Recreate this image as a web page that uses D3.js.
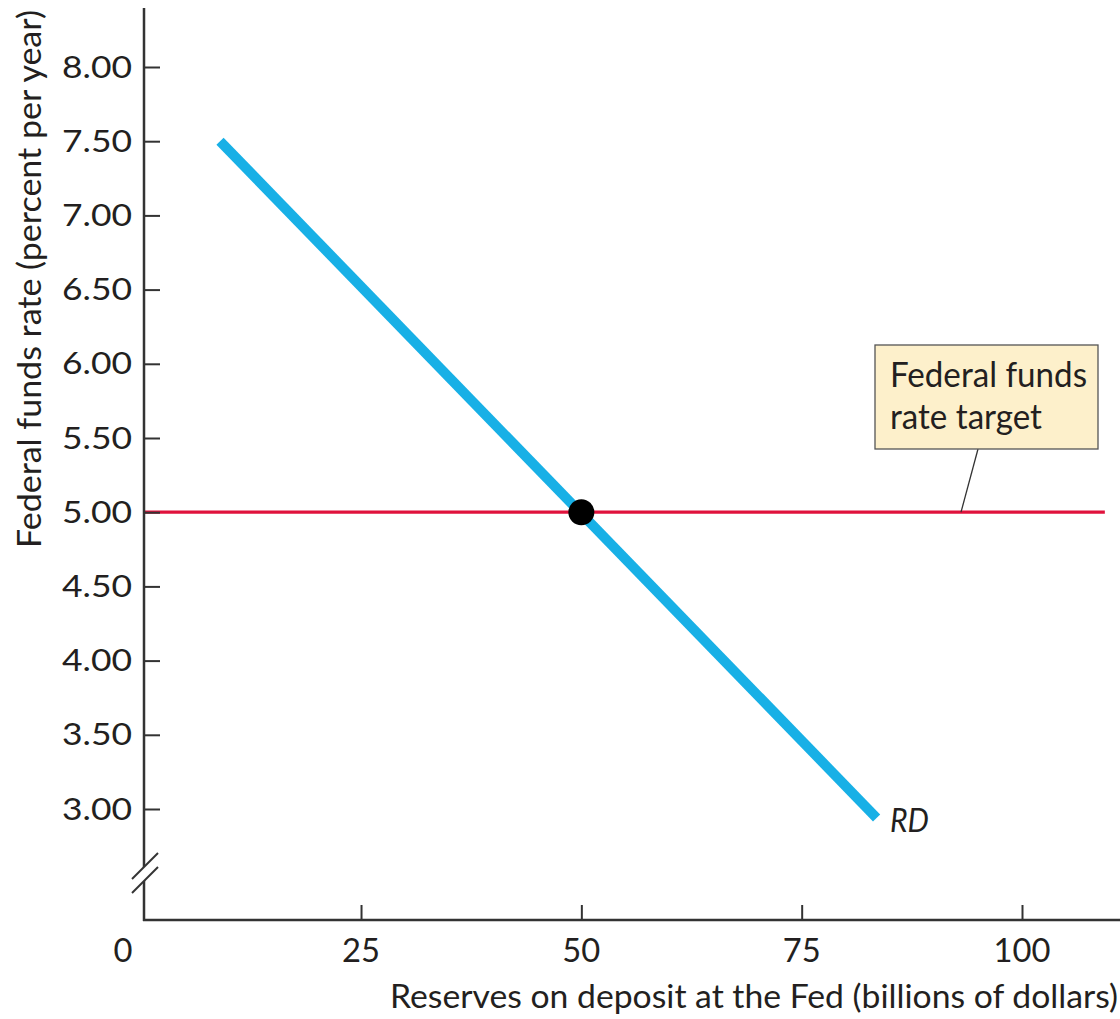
<!DOCTYPE html>
<html><head><meta charset="utf-8">
<script src="https://cdn.jsdelivr.net/npm/d3@7"></script>
<style>body{margin:0;background:#fff}svg{display:block}text{font-family:Lato,"Open Sans",sans-serif;fill:#231f20}</style>
</head><body>
<script>
const xTicks=[0,25,50,75,100];
const yTicks=[3.00,3.50,4.00,4.50,5.00,5.50,6.00,6.50,7.00,7.50,8.00];
const rdX=[9,83.5];
const rdY=[7.5,2.94];
const targetRate=5.0;
const targetX=[0,109.4];
const eqX=[50], eqY=[5.0];

const W=1120,H=1019;
const svg=d3.select("body").append("svg").attr("width",W).attr("height",H);
const x=d3.scaleLinear().domain([0,100]).range([140.7,1022]);
const y=d3.scaleLinear().domain([3,8]).range([809,67]);
const axisX=144, axisY=920;
const ink="#333";

// red target line
svg.append("line").attr("x1",axisX).attr("x2",x(targetX[1])).attr("y1",y(targetRate)).attr("y2",y(targetRate))
 .attr("stroke","#e0123c").attr("stroke-width",3.2);

// RD line
const rd=rdX.map((d,i)=>[d,rdY[i]]);
svg.append("path").attr("d",d3.line().x(d=>x(d[0])).y(d=>y(d[1]))(rd))
 .attr("stroke","#18b0e6").attr("stroke-width",10).attr("fill","none");

// equilibrium dot
svg.selectAll(".eq").data(eqX).enter().append("circle").attr("cx",d=>x(d)).attr("cy",(d,i)=>y(eqY[i])).attr("r",13).attr("fill","#000");

// axes
const yAx=d3.axisRight(y).tickValues(yTicks).tickSize(16).tickFormat("");
const gy=svg.append("g").attr("transform",`translate(${axisX},0)`).call(yAx);
gy.select(".domain").remove();
gy.selectAll(".tick line").attr("stroke",ink).attr("stroke-width",2);
svg.append("line").attr("x1",axisX).attr("x2",axisX).attr("y1",8).attr("y2",axisY+1).attr("stroke",ink).attr("stroke-width",2.5);
svg.selectAll(".ylab").data(yTicks).enter().append("text").attr("x",132).attr("y",d=>y(d)+10.5)
 .attr("text-anchor","end").attr("font-size",31).attr("textLength",70).attr("lengthAdjust","spacingAndGlyphs").text(d=>d.toFixed(2));

const xAx=d3.axisTop(x).tickValues(xTicks.filter(d=>d>0)).tickSize(15).tickFormat("");
const gx=svg.append("g").attr("transform",`translate(0,${axisY})`).call(xAx);
gx.select(".domain").remove();
gx.selectAll(".tick line").attr("stroke",ink).attr("stroke-width",2);
svg.append("line").attr("x1",axisX-1).attr("x2",W).attr("y1",axisY).attr("y2",axisY).attr("stroke",ink).attr("stroke-width",2.5);
svg.selectAll(".xlab").data(xTicks).enter().append("text")
 .attr("x",d=>d===0?123:x(d)).attr("y",962).attr("text-anchor","middle").attr("font-size",33)
 .attr("textLength",d=>String(d).length*19).attr("lengthAdjust","spacingAndGlyphs").text(d=>d);

// axis break
svg.append("polygon").attr("points",`${axisX-12},879 ${axisX+14},853 ${axisX+14},867 ${axisX-12},893`).attr("fill","#fff");
[[879,853],[893,867]].forEach(p=>svg.append("line").attr("x1",axisX-12).attr("y1",p[0]).attr("x2",axisX+14).attr("y2",p[1]).attr("stroke",ink).attr("stroke-width",2));

// titles
svg.append("text").attr("transform","translate(41,279) rotate(-90)").attr("text-anchor","middle").attr("font-size",33)
 .attr("textLength",538).attr("lengthAdjust","spacingAndGlyphs").text("Federal funds rate (percent per year)");
svg.append("text").attr("x",1118).attr("y",1008).attr("text-anchor","end").attr("font-size",32)
 .attr("textLength",728).attr("lengthAdjust","spacingAndGlyphs").text("Reserves on deposit at the Fed (billions of dollars)");

// RD label
svg.append("text").attr("x",890).attr("y",832).attr("font-size",33).attr("font-style","italic")
 .attr("textLength",39).attr("lengthAdjust","spacingAndGlyphs").text("RD");

// annotation
svg.append("line").attr("x1",978).attr("y1",449).attr("x2",961).attr("y2",y(targetRate)).attr("stroke",ink).attr("stroke-width",1.3);
svg.append("rect").attr("x",875).attr("y",345).attr("width",223).attr("height",104).attr("fill","#fdf0cb").attr("stroke","#555").attr("stroke-width",1.3);
svg.append("text").attr("x",890).attr("y",387).attr("font-size",35).attr("textLength",197).attr("lengthAdjust","spacingAndGlyphs").text("Federal funds");
svg.append("text").attr("x",890).attr("y",429).attr("font-size",35).attr("textLength",152).attr("lengthAdjust","spacingAndGlyphs").text("rate target");
</script>
</body></html>
